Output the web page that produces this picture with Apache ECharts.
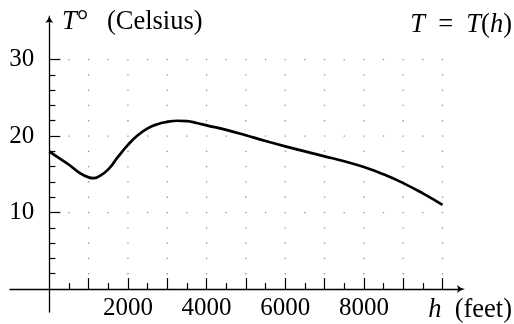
<!DOCTYPE html>
<html>
<head>
<meta charset="utf-8">
<script src="https://cdn.jsdelivr.net/npm/echarts@6/dist/echarts.min.js"></script>
<style>html,body{margin:0;padding:0;background:#fff}#c{width:514px;height:324px}</style>
</head>
<body>
<div id="c"></div>
<script>
// ---- data ----
const heights = [0, 250, 500, 750, 1000, 1125, 1250, 1500, 1750, 2000, 2250, 2500, 2750, 3000, 3250, 3500, 3750, 4000, 4500, 5000, 5500, 6000, 6500, 7000, 7500, 8000, 8500, 9000, 9500, 10000];
const temps   = [18.0, 17.1, 16.25, 15.25, 14.6, 14.5, 14.7, 15.65, 17.3, 18.85, 20.1, 21.0, 21.55, 21.85, 22.0, 21.95, 21.7, 21.4, 20.8, 20.1, 19.35, 18.65, 18.0, 17.35, 16.7, 15.95, 15.0, 13.85, 12.5, 11.0];
const xMajorTicks = [1000, 2000, 3000, 4000, 5000, 6000, 7000, 8000, 9000, 10000];
const xMinorTicks = [500, 1500, 2500, 3500, 4500, 5500, 6500, 7500, 8500, 9500];
const xTickLabels = [2000, 4000, 6000, 8000];
const yMajorTicks = [10, 20, 30];
const yMinorTicks = [2, 4, 6, 8, 12, 14, 16, 18, 22, 24, 26, 28];
const yTickLabels = [10, 20, 30];

// grid dots at tick intersections
const dots = [];
[...yMajorTicks, ...yMinorTicks].forEach(function (y) {
  xMajorTicks.forEach(function (x) { dots.push([x, y]); });
});
yMajorTicks.forEach(function (y) {
  xMinorTicks.forEach(function (x) { dots.push([x, y]); });
});

const FONT = "'Liberation Serif', 'DejaVu Serif', serif";
const FS = 25;     // tick labels
const TS = 26.5;   // annotation text
const arrow = 'path://M0,10 Q4,6 5,0 Q6,6 10,10 Q5,7.5 0,10 Z';
const tickStyle = { color: '#000', width: 1.2 };
const plain = function (v) { return String(v); };

const X_MIN = -1000, X_MAX = 10470, Y_MIN = -3, Y_MAX = 35.3;
// grid 0: full axes (lines through zero, arrows, ticks); grid 1: same scale, starting at zero (labels only)
const G = { left: 10, top: 19, width: 451, height: 293 };
const pxPerX = G.width / (X_MAX - X_MIN);
const pxPerY = G.height / (Y_MAX - Y_MIN);
const G1 = {
  left: G.left - X_MIN * pxPerX,
  top: G.top,
  width: X_MAX * pxPerX,
  height: Y_MAX * pxPerY
};

const hidden = { show: false };
const chart = echarts.init(document.getElementById('c'), null, { renderer: 'canvas' });
chart.setOption({
  animation: false,
  backgroundColor: '#fff',
  grid: [
    { left: G.left, top: G.top, width: G.width, height: G.height, containLabel: false, outerBoundsMode: 'none' },
    { left: G1.left, top: G1.top, width: G1.width, height: G1.height, containLabel: false, outerBoundsMode: 'none' }
  ],
  xAxis: [
    {
      gridIndex: 0, type: 'value', min: X_MIN, max: X_MAX, position: 'bottom',
      axisLine: { show: true, onZero: true, onZeroAxisIndex: 0, symbol: ['none', arrow], symbolSize: [8, 12], lineStyle: { color: '#000', width: 1.3 } },
      axisTick: { show: true, inside: true, length: 11, customValues: xMajorTicks, lineStyle: tickStyle },
      axisLabel: hidden, splitLine: hidden
    },
    {
      gridIndex: 0, type: 'value', min: X_MIN, max: X_MAX, position: 'bottom',
      axisLine: { show: false, onZero: true, onZeroAxisIndex: 0 },
      axisTick: { show: true, inside: true, length: 6, customValues: xMinorTicks, lineStyle: tickStyle },
      axisLabel: hidden, splitLine: hidden
    },
    {
      gridIndex: 1, type: 'value', min: 0, max: X_MAX, position: 'bottom',
      axisLine: { show: false, onZero: false }, axisTick: hidden, splitLine: hidden,
      axisLabel: { show: true, customValues: xTickLabels, formatter: plain, color: '#000', fontFamily: FONT, fontSize: FS, margin: 7 }
    }
  ],
  yAxis: [
    {
      gridIndex: 0, type: 'value', min: Y_MIN, max: Y_MAX, position: 'left',
      axisLine: { show: true, onZero: true, onZeroAxisIndex: 0, symbol: ['none', arrow], symbolSize: [8, 12], lineStyle: { color: '#000', width: 1.3 } },
      axisTick: { show: true, inside: true, length: 11, customValues: yMajorTicks, lineStyle: tickStyle },
      axisLabel: hidden, splitLine: hidden
    },
    {
      gridIndex: 0, type: 'value', min: Y_MIN, max: Y_MAX, position: 'left',
      axisLine: { show: false, onZero: true, onZeroAxisIndex: 0 },
      axisTick: { show: true, inside: true, length: 6, customValues: yMinorTicks, lineStyle: tickStyle },
      axisLabel: hidden, splitLine: hidden
    },
    {
      gridIndex: 1, type: 'value', min: 0, max: Y_MAX, position: 'left',
      axisLine: { show: false, onZero: false }, axisTick: hidden, splitLine: hidden,
      axisLabel: { show: true, customValues: yTickLabels, formatter: plain, color: '#000', fontFamily: FONT, fontSize: FS, margin: 15 }
    }
  ],
  series: [
    {
      type: 'scatter', xAxisIndex: 2, yAxisIndex: 2, data: dots, symbol: 'rect', symbolSize: 1.3, silent: true,
      itemStyle: { color: '#777' }, z: 1
    },
    {
      type: 'line', xAxisIndex: 2, yAxisIndex: 2, data: heights.map(function (h, i) { return [h, temps[i]]; }),
      smooth: 0.5, showSymbol: false, silent: true, clip: false,
      lineStyle: { color: '#000', width: 2.7 }, z: 5
    }
  ],
  graphic: [
    {
      type: 'text', x: 62, y: 22,
      style: {
        text: '{i|T}{s|°}\u2002\u2009(Celsius)', align: 'left', verticalAlign: 'middle',
        fontFamily: FONT, fontSize: TS, fill: '#000',
        rich: {
          i: { fontFamily: FONT, fontSize: TS, fontStyle: 'italic' },
          s: { fontFamily: FONT, fontSize: 29 }
        }
      }
    },
    {
      type: 'text', x: 512, y: 25,
      style: {
        text: '{i|T}\u2002=\u2002{i|T}({i|h})', align: 'right', verticalAlign: 'middle',
        fontFamily: FONT, fontSize: TS, fill: '#000',
        rich: { i: { fontFamily: FONT, fontSize: TS, fontStyle: 'italic' } }
      }
    },
    {
      type: 'text', x: 512, y: 310,
      style: {
        text: '{i|h}\u2002(feet)', align: 'right', verticalAlign: 'middle',
        fontFamily: FONT, fontSize: TS, fill: '#000',
        rich: { i: { fontFamily: FONT, fontSize: TS, fontStyle: 'italic' } }
      }
    }
  ]
});
</script>
</body>
</html>
